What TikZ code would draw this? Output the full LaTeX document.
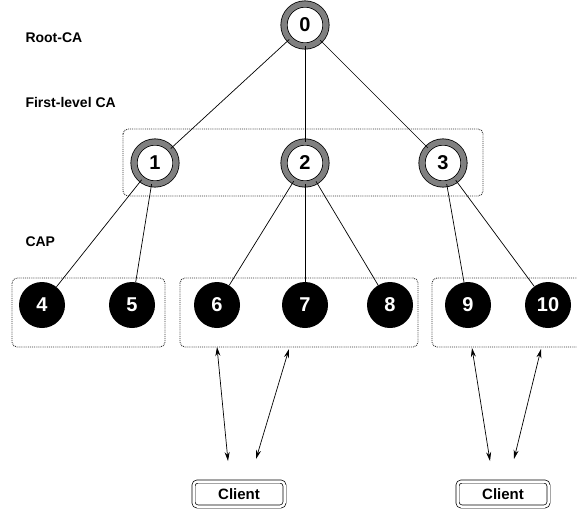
\documentclass[tikz,border=0pt]{standalone}
\usepackage{fontspec}
\setmainfont{Liberation Sans}
\usetikzlibrary{arrows.meta}
\begin{document}
\begin{tikzpicture}[x=1pt,y=-1pt,
  canode/.style={circle, draw=black, line width=0.8pt, double=black!50, double distance=5.5pt,
    fill=white, minimum size=42pt, inner sep=0pt, font=\bfseries\fontsize{20}{20}\selectfont},
  capnode/.style={circle, fill=black, minimum size=46pt, inner sep=0pt, text=white,
    font=\bfseries\fontsize{20}{20}\selectfont},
  group/.style={draw=black!80, densely dotted, line width=0.9pt, rounded corners=5pt},
  client/.style={draw=black, line width=0.7pt, double=white, double distance=2.5pt,
    rounded corners=4pt, minimum width=91pt, minimum height=25pt, inner sep=0pt,
    font=\bfseries\fontsize{15}{15}\selectfont},
  level/.style={anchor=west, font=\bfseries\fontsize{14}{14}\selectfont},
  edge/.style={line width=0.7pt},
  link/.style={line width=0.7pt, {Stealth[length=9pt,width=5pt]}-{Stealth[length=9pt,width=5pt]}}]
\useasboundingbox (0,0) rectangle (577,509);

% level captions
\node[level] (lroot) at (22,38) {Root-CA};
\node[level] (lfirst) at (22,102) {First-level CA};
\node[level] (lcap) at (22,242) {CAP};

% dotted group frames
\draw[group] (123,129) rectangle (483,196);
\draw[group] (12,278) rectangle (165,347);
\draw[group] (180,278) rectangle (418,347);
\draw[group] (432,278) rectangle (590,347);

% certificate authorities
\node[canode] (n0) at (305,25) {0};
\node[canode] (n1) at (155,163) {1};
\node[canode] (n2) at (305,163) {2};
\node[canode] (n3) at (443,163) {3};

% access points
\node[capnode] (n4) at (42,305) {4};
\node[capnode] (n5) at (132,305) {5};
\node[capnode] (n6) at (217,305) {6};
\node[capnode] (n7) at (305,305) {7};
\node[capnode] (n8) at (390,305) {8};
\node[capnode] (n9) at (468,305) {9};
\node[capnode] (n10) at (548,305) {10};

% hierarchy
\draw[edge] (n0) -- (n1);
\draw[edge] (n0) -- (n2);
\draw[edge] (n0) -- (n3);
\draw[edge] (n1) -- (n4);
\draw[edge] (n1) -- (n5);
\draw[edge] (n2) -- (n6);
\draw[edge] (n2) -- (n7);
\draw[edge] (n2) -- (n8);
\draw[edge] (n3) -- (n9);
\draw[edge] (n3) -- (n10);

% clients
\node[client] (c1) at (239,494) {Client};
\node[client] (c2) at (503,494) {Client};

% client links
\coordinate (a1) at (217,347);
\coordinate (a2) at (228,461);
\coordinate (b1) at (289,349);
\coordinate (b2) at (256,459);
\coordinate (d1) at (472,348);
\coordinate (d2) at (490,461);
\coordinate (e1) at (541,349);
\coordinate (e2) at (514,459);
\draw[link] (a1) -- (a2);
\draw[link] (b1) -- (b2);
\draw[link] (d1) -- (d2);
\draw[link] (e1) -- (e2);
\end{tikzpicture}
\end{document}
